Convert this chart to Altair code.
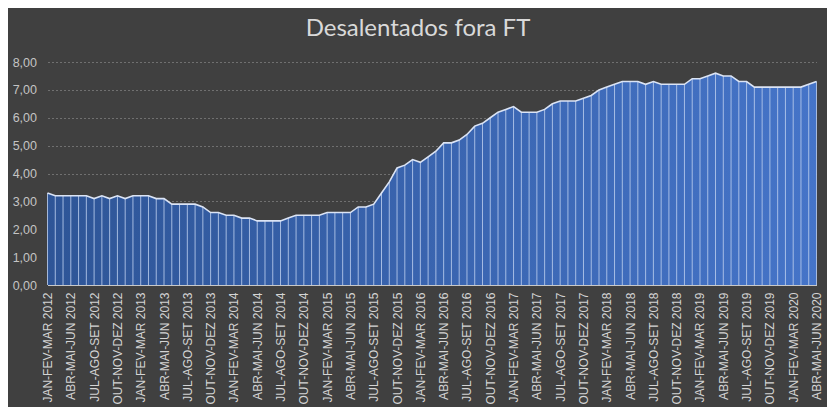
import altair as alt
import pandas as pd

months = ["JAN", "FEV", "MAR", "ABR", "MAI", "JUN", "JUL", "AGO", "SET", "OUT", "NOV", "DEZ"]

# rolling quarters, JAN-FEV-MAR 2012 ... ABR-MAI-JUN 2020
periods = []
for k in range(100):
    year = 2012 + (k + 2) // 12
    periods.append(f"{months[k % 12]}-{months[(k + 1) % 12]}-{months[(k + 2) % 12]} {year}")

tick_labels = periods[::3]

values = [
    3.3, 3.2, 3.2, 3.2, 3.2, 3.2, 3.1, 3.2, 3.1, 3.2,
    3.1, 3.2, 3.2, 3.2, 3.1, 3.1, 2.9, 2.9, 2.9, 2.9,
    2.8, 2.6, 2.6, 2.5, 2.5, 2.4, 2.4, 2.3, 2.3, 2.3,
    2.3, 2.4, 2.5, 2.5, 2.5, 2.5, 2.6, 2.6, 2.6, 2.6,
    2.8, 2.8, 2.9, 3.3, 3.7, 4.2, 4.3, 4.5, 4.4, 4.6,
    4.8, 5.1, 5.1, 5.2, 5.4, 5.7, 5.8, 6.0, 6.2, 6.3,
    6.4, 6.2, 6.2, 6.2, 6.3, 6.5, 6.6, 6.6, 6.6, 6.7,
    6.8, 7.0, 7.1, 7.2, 7.3, 7.3, 7.3, 7.2, 7.3, 7.2,
    7.2, 7.2, 7.2, 7.4, 7.4, 7.5, 7.6, 7.5, 7.5, 7.3,
    7.3, 7.1, 7.1, 7.1, 7.1, 7.1, 7.1, 7.1, 7.2, 7.3,
]
assert len(values) == len(periods)

df = pd.DataFrame({"periodo": periods, "valor": values, "zero": [0.0] * len(values)})

x_enc = alt.X(
    "periodo:N",
    sort=periods,
    scale=alt.Scale(type="point", padding=0),
    title=None,
    axis=alt.Axis(
        values=tick_labels,
        labelAngle=-90,
        labelAlign="right",
        labelBaseline="middle",
        labelPadding=7,
        labelFont="Liberation Sans",
        labelFontSize=12,
        labelColor="#d4d4d4",
        ticks=False,
        domain=True,
        domainColor="#c8c8c8",
        domainWidth=1,
        grid=False,
        labelOverlap=False,
    ),
)

y_enc = alt.Y(
    "valor:Q",
    scale=alt.Scale(domain=[0, 8], nice=False),
    title=None,
    axis=alt.Axis(
        values=list(range(9)),
        labelExpr="replace(format(datum.value, '.2f'), '.', ',')",
        grid=True,
        gridDash=[2, 2],
        gridColor="#707070",
        gridWidth=1,
        domain=False,
        ticks=False,
        labelFont="Liberation Sans",
        labelFontSize=12.5,
        labelColor="#c4c4c4",
        labelPadding=11,
    ),
)

grad = alt.Gradient(
    gradient="linear",
    stops=[
        alt.GradientStop(color="#2E5597", offset=0),
        alt.GradientStop(color="#4574C8", offset=1),
    ],
    x1=0, x2=1, y1=0, y2=0,
)

base = alt.Chart(df)

area = base.mark_area(color=grad, opacity=1).encode(x=x_enc, y=y_enc)

rules = base.mark_rule(color="#b9cbec", strokeWidth=1, opacity=0.85).encode(
    x=x_enc, y=y_enc, y2=alt.Y2("zero:Q")
)

outline = base.mark_line(color="#dbe4f5", strokeWidth=1.6).encode(x=x_enc, y=y_enc)

chart = (
    alt.layer(area, rules, outline)
    .properties(
        width=769,
        height=223,
        autosize="none",
        padding={"left": 39.5, "top": 54, "right": 10.5, "bottom": 122},
        background="#404040",
        title=alt.TitleParams(
            "Desalentados fora FT",
            font="Lato",
            fontSize=24,
            fontWeight="normal",
            color="#d9d9d9",
            anchor="middle",
            frame="group",
            dx=-14,
            offset=15,
        ),
    )
    .configure_view(stroke=None)
)

chart.save("out.html", embed_options={"renderer": "svg", "actions": False})
